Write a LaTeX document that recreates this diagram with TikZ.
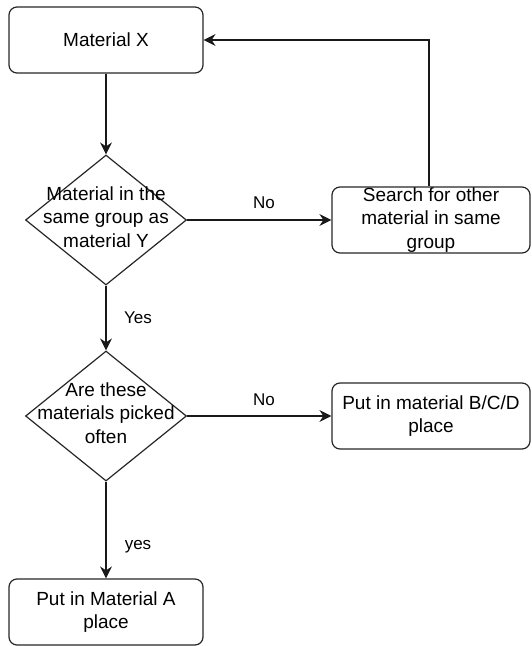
\documentclass[tikz,border=0pt]{standalone}
\usepackage{fontspec}
\setmainfont{Liberation Sans}
\usetikzlibrary{arrows.meta,shapes.geometric}
\tikzset{
    step box/.style={draw=black!85, line width=1.2pt, rounded corners=8pt,
        minimum width=#1, minimum height=66pt, inner sep=0pt, align=center},
    step box/.default=194pt,
    decision/.style={draw=black!85, line width=1.2pt, diamond, inner sep=0pt,
        minimum width=161pt, minimum height=130pt},
    flow line/.style={line width=1.2pt, black!90,
        -{Stealth[length=12pt,width=12pt,inset=4pt]}},
    edge text/.style={font=\fontsize{17}{20}\selectfont}
}
\begin{document}
\begin{tikzpicture}[x=1pt,y=-1pt,font=\fontsize{19}{23.5}\selectfont]
    \useasboundingbox (0,0) rectangle (531,646);

    % boxes
    \node[step box] (matx) at (106,40) {Material X};
    \node[decision] (same) at (106,220) {};
    \node[align=center] (sametext) at (106,217)
        {Material in the\\same group as\\material Y};
    \node[step box=198pt] (search) at (431,220) {};
    \node[align=center] (searchtext) at (431,220)
        {Search for other\\material in same\\group};
    \node[decision] (often) at (106,416) {};
    \node[align=center] (oftentext) at (106,413)
        {Are these\\materials picked\\often};
    \node[step box=198pt] (putbcd) at (431,416)
        {Put in material B/C/D\\place};
    \node[step box] (puta) at (106,612) {Put in Material A\\place};

    % connectors
    \draw[flow line] (matx) -- (same);
    \draw[flow line] (same.east) -- (search.west);
    \draw[flow line] ([xshift=-2pt]search.north) |- (matx.east);
    \draw[flow line] (same.south) -- (often.north);
    \draw[flow line] (often.east) -- (putbcd.west);
    \draw[flow line] (often.south) -- (puta.north);

    \node[edge text] (no1) at (264,203) {No};
    \node[edge text] (yes1) at (138,318) {Yes};
    \node[edge text] (no2) at (264,400) {No};
    \node[edge text] (yes2) at (138,547) {yes};
\end{tikzpicture}
\end{document}
